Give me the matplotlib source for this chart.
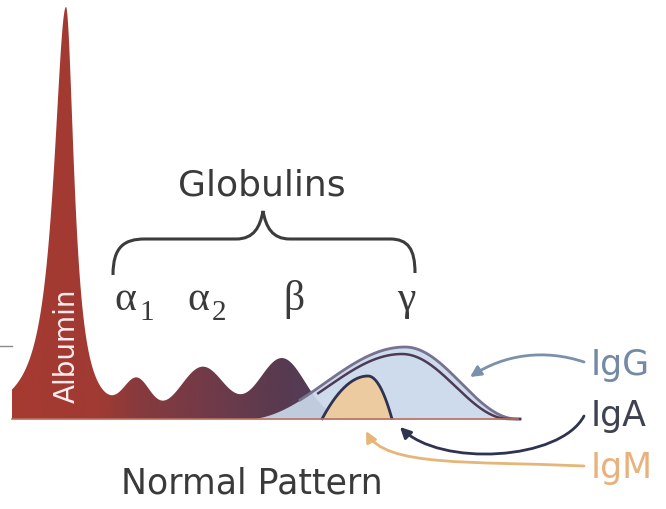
import numpy as np
import matplotlib.pyplot as plt
from matplotlib.patches import Polygon, FancyArrowPatch, PathPatch
from matplotlib.path import Path
from matplotlib.colors import LinearSegmentedColormap

# serum protein fractions (mobility position, peak height, spread left/right)
fractions = ['Albumin', 'α1', 'α2', 'β']
mobility = [66, 137, 203, 282]
heights = [412, 33, 50, 60]
spread_left = [15, 13, 22, 23]
spread_right = [10, 13, 22, 23]

# gamma region immunoglobulins
immuno = ['IgG', 'IgA']
immuno_pos = [405, 368]
immuno_height = [72, 43]
immuno_left = [160, 46]
immuno_right = [112, 24]

baseline = 420


def albumin_shape(x, c, h, wl, wr):
    w = np.where(x < c, wl, wr)
    return h / (1 + ((x - c) / w) ** 2)


def gauss(x, c, h, wl, wr):
    w = np.where(x < c, wl, wr)
    return h * np.exp(-0.5 * ((x - c) / w) ** 2)


def bump(x, c, h, wl, wr):
    w = np.where(x < c, wl, wr)
    d = np.clip(np.abs(x - c) / w, 0, 1)
    return h * (0.5 + 0.5 * np.cos(np.pi * d))


def dome(x, c, h, wl, wr):
    w = np.where(x < c, wl, wr)
    d = np.clip(np.abs(x - c) / w, 0, 1)
    return h * (1 - d ** 2)


fig = plt.figure(figsize=(6.66, 5.10), dpi=100)
ax = fig.add_axes([0, 0, 1, 1])

# main trace: albumin + alpha/beta globulins
xs = np.linspace(12, 345, 1500)
total = albumin_shape(xs, mobility[0], heights[0], spread_left[0], spread_right[0])
for c, h, wl, wr in zip(mobility[1:], heights[1:], spread_left[1:], spread_right[1:]):
    total = total + gauss(xs, c, h, wl, wr)

verts = [(xs[0], baseline)] + list(zip(xs, baseline - total)) + [(xs[-1], baseline)]
poly = Polygon(verts, closed=True, facecolor='none', edgecolor='none')
ax.add_patch(poly)

stops = [(0.0, '#a63a31'), ((100 - 12) / 333, '#a03a33'), ((137 - 12) / 333, '#883a3d'),
         ((203 - 12) / 333, '#733a48'), ((282 - 12) / 333, '#583a50'), (1.0, '#4e4060')]
cmap = LinearSegmentedColormap.from_list('sep', stops)
im = ax.imshow(np.linspace(0, 1, 512)[None, :], cmap=cmap, aspect='auto',
               extent=[xs[0], xs[-1], baseline, 0], zorder=2)
im.set_clip_path(poly)

# gamma region
xg = np.linspace(240, 520, 1200)
igg = bump(xg, immuno_pos[0], immuno_height[0], immuno_left[0], immuno_right[0])
iga = dome(xg, immuno_pos[1], immuno_height[1], immuno_left[1], immuno_right[1])
ax.fill_between(xg, baseline, baseline - igg, color='#cad8eb', alpha=0.92, lw=0, zorder=3)
ax.fill_between(xg, baseline, baseline - iga, where=iga > 0, color='#ebcb9f', lw=0, zorder=4)

m = xg > 300
ax.plot(xg[m], baseline - igg[m], color='#76728f', lw=2, zorder=5)
igg_in = bump(xg, immuno_pos[0] - 3, immuno_height[0] - 7, immuno_left[0] - 12, immuno_right[0] - 5)
m2 = xg > 318
ax.plot(xg[m2], baseline - igg_in[m2], color='#4c3b55', lw=1.8, zorder=5)
m3 = iga > 0.3
ax.plot(xg[m3], baseline - iga[m3], color='#2f3350', lw=2, zorder=6)

ax.plot([12, 518], [baseline, baseline], color='#b8705f', lw=1.2, zorder=6)
ax.plot([0, 12], [347, 347], color='#8a8a8a', lw=1)

# arrows from the immunoglobulin labels
def curve_arrow(pts, color):
    path = Path(pts, [Path.MOVETO, Path.CURVE4, Path.CURVE4, Path.CURVE4])
    ax.add_patch(FancyArrowPatch(path=path, arrowstyle='-|>', mutation_scale=16,
                                 color=color, lw=2, zorder=7))

curve_arrow([(584, 363), (545, 350), (505, 355), (470, 378)], '#7b90aa')
curve_arrow([(584, 417), (560, 462), (440, 468), (400, 428)], '#2f3350')
curve_arrow([(584, 467), (470, 462), (385, 468), (366, 432)], '#e6b678')

# brace over the globulins
brace = Path(
    [(113, 276), (113, 248), (124, 240), (145, 240), (236, 240),
     (254, 240), (260, 228), (263, 212), (266, 228), (272, 240), (290, 240),
     (390, 240), (408, 240), (415, 250), (415, 274)],
    [Path.MOVETO, Path.CURVE4, Path.CURVE4, Path.CURVE4, Path.LINETO,
     Path.CURVE4, Path.CURVE4, Path.CURVE4, Path.CURVE4, Path.CURVE4, Path.CURVE4,
     Path.LINETO, Path.CURVE4, Path.CURVE4, Path.CURVE4])
ax.add_patch(PathPatch(brace, facecolor='none', edgecolor='#3c3c3c', lw=2.2))

txt = '#3a3a3a'
serif = ['Liberation Serif', 'DejaVu Serif']
ax.text(262, 186, 'Globulins', ha='center', va='center', fontsize=26, color=txt)

# greek band labels with subscripts
greek = ['α', 'α', 'β', 'γ']
subs = ['1', '2', '', '']
greek_x = [125, 198, 294, 406]
for g, s, x in zip(greek, subs, greek_x):
    ax.text(x, 310, g, ha='center', va='baseline', fontsize=30, color=txt, family=serif)
    if s:
        ax.text(x + 14, 320, s, ha='left', va='baseline', fontsize=21, color=txt, family=serif)

ax.text(67, 346, 'Albumin', rotation=90, ha='center', va='center', fontsize=20,
        color='#fbeeee', zorder=8)
ax.text(252, 484, 'Normal Pattern', ha='center', va='center', fontsize=25, color=txt)

ax.text(591, 375, 'IgG', va='baseline', fontsize=25, color='#7389a4')
ax.text(591, 426, 'IgA', va='baseline', fontsize=25, color='#3e4252')
ax.text(591, 478, 'IgM', va='baseline', fontsize=25, color='#e9b27c')

ax.set_xlim(0, 666)
ax.set_ylim(510, 0)
ax.axis('off')
fig.savefig('out.png', dpi=100)
